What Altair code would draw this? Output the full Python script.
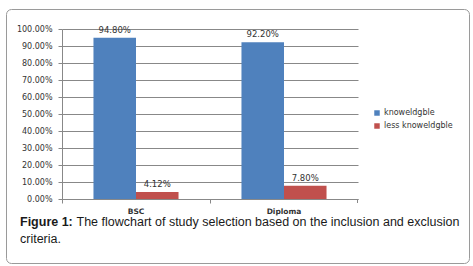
import altair as alt
import pandas as pd

categories = ["BSC", "Diploma"]
series_names = ["knoweldgble", "less knoweldgble"]
knowledgeable = [0.948, 0.922]
less_knowledgeable = [0.0412, 0.078]
y_ticks = [0.0, 0.1, 0.2, 0.3, 0.4, 0.5, 0.6, 0.7, 0.8, 0.9, 1.0]
colors = ["#4F81BD", "#C0504D"]
caption_bold = "Figure 1:"
caption_rest = "The flowchart of study selection based on the inclusion and exclusion"
caption_line2 = "criteria."

rows = []
for i, c in enumerate(categories):
    rows.append({"cat": c, "series": series_names[0], "value": knowledgeable[i]})
    rows.append({"cat": c, "series": series_names[1], "value": less_knowledgeable[i]})
df = pd.DataFrame(rows)
one = pd.DataFrame({"a": [0]})

W, H = 296, 170

x_enc = alt.X("cat:N", sort=categories, title=None,
              scale=alt.Scale(paddingInner=0, paddingOuter=0),
              axis=alt.Axis(labelAngle=0, bandPosition=0, ticks=True, tickSize=4,
                            tickColor="#888", domainColor="#888",
                            labelFont="DejaVu Sans", labelFontSize=7.5,
                            labelFontWeight="bold", labelColor="#333",
                            labelPadding=4, grid=False, labelOverlap=False))
xoff_enc = alt.XOffset("series:N", sort=series_names,
                       scale=alt.Scale(paddingInner=0, paddingOuter=0.74))
y_enc = alt.Y("value:Q", title=None,
              scale=alt.Scale(domain=[0, 1], nice=False),
              axis=alt.Axis(values=y_ticks, tickCount=20, format=".2%", labelOverlap=False,
                            grid=True, gridColor="#888", gridWidth=1,
                            domainColor="#888", tickColor="#888", tickSize=4,
                            labelFont="DejaVu Sans", labelFontSize=8,
                            labelColor="#333", labelPadding=6))

bars = alt.Chart(df).mark_bar().encode(
    x=x_enc, xOffset=xoff_enc, y=y_enc,
    color=alt.Color("series:N", sort=series_names,
                    scale=alt.Scale(domain=series_names, range=colors),
                    legend=alt.Legend(title=None, orient="none", legendX=311, legendY=80,
                                      symbolType="square", symbolSize=30,
                                      symbolStrokeWidth=0,
                                      labelFont="DejaVu Sans", labelFontSize=8,
                                      labelColor="#333", labelOffset=3,
                                      rowPadding=5)),
)

labels = alt.Chart(df).mark_text(dy=-8, font="DejaVu Sans", fontSize=8.5,
                                 color="#333").encode(
    x=alt.X("cat:N", sort=categories), xOffset=alt.XOffset("series:N", sort=series_names),
    y="value:Q",
    text=alt.Text("value:Q", format=".2%"),
)

end_tick = alt.Chart(one).mark_rule(color="#888").encode(
    x=alt.value(W - 0.5), y=alt.value(H), y2=alt.value(H + 4))

border = alt.Chart(one).mark_rect(fill="transparent", stroke="#9a9a9a", strokeWidth=1,
                                  cornerRadius=5).encode(
    x=alt.value(-55.5), x2=alt.value(407.5), y=alt.value(-19.5), y2=alt.value(234.5))

cap1 = alt.Chart(one).mark_text(align="left", baseline="middle", font="Liberation Sans",
                                fontSize=12.5, fontWeight="bold", color="#1a1a1a").encode(
    x=alt.value(-42), y=alt.value(193), text=alt.value(caption_bold))
cap2 = alt.Chart(one).mark_text(align="left", baseline="middle", font="Liberation Sans",
                                fontSize=12.5, color="#1a1a1a").encode(
    x=alt.value(14.5), y=alt.value(193), text=alt.value(caption_rest))
cap3 = alt.Chart(one).mark_text(align="left", baseline="middle", font="Liberation Sans",
                                fontSize=12.5, color="#1a1a1a").encode(
    x=alt.value(-42), y=alt.value(210), text=alt.value(caption_line2))

chart = alt.layer(border, bars, labels, end_tick, cap1, cap2, cap3).properties(
    width=W, height=H,
    autosize=alt.AutoSizeParams(type="none"),
    padding={"left": 62, "top": 29, "right": 115, "bottom": 67},
    background="white",
).configure_view(stroke=None)

chart.save("out.html", embed_options={"renderer": "svg", "actions": False})
